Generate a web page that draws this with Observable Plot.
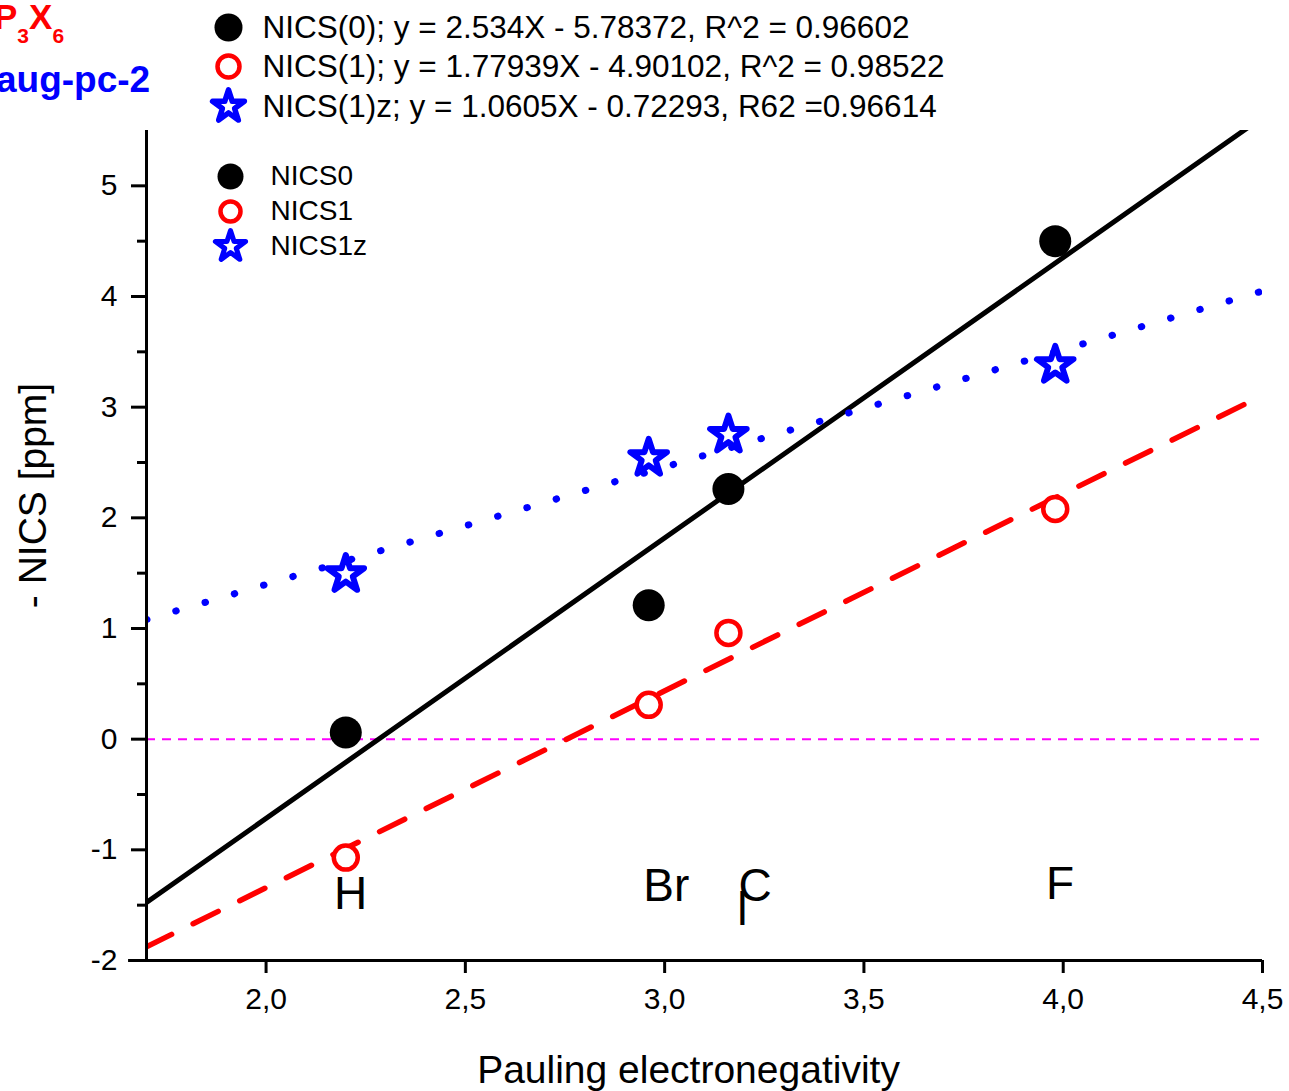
<!DOCTYPE html>
<html>
<head>
<meta charset="utf-8">
<script src="https://cdn.jsdelivr.net/npm/d3@7"></script>
<script src="https://cdn.jsdelivr.net/npm/@observablehq/plot@0.6"></script>
<style>
  html, body { margin: 0; padding: 0; background: #fff; }
  #wrap { position: relative; width: 1289px; height: 1091px; overflow: hidden; font-family: "Liberation Sans", Arial, sans-serif; }
  #wrap svg { position: absolute; left: 0; top: 0; }
  .t1 { position: absolute; left: -6px; top: -1px; color: #ff0000; font-weight: bold; font-size: 35px; line-height: 1; }
  .t1 sub { font-size: 21px; vertical-align: -14px; }
  .t2 { position: absolute; left: -4px; top: 61px; color: #0000ff; font-weight: bold; font-size: 37px; line-height: 1; }
</style>
</head>
<body>
<div id="wrap"></div>
<script>
// Electronegativity (Pauling) for X = H, Br, Cl, F
const electronegativity = [2.20, 2.96, 3.16, 3.98];
const nics0  = [0.06, 1.21, 2.26, 4.50];
const nics1  = [-1.07, 0.31, 0.96, 2.08];
const nics1z = [1.49, 2.54, 2.75, 3.38];

const seriesNames = ["NICS0", "NICS1", "NICS1z"];
const fitLabels = [
  "NICS(0); y = 2.534X - 5.78372, R^2 = 0.96602",
  "NICS(1); y = 1.77939X - 4.90102, R^2 = 0.98522",
  "NICS(1)z; y = 1.0605X - 0.72293, R62 =0.96614"
];
const slopes = [2.534, 1.77939, 1.0605];
const intercepts = [-5.78372, -4.90102, -0.72293];

const xTicks = [2.0, 2.5, 3.0, 3.5, 4.0, 4.5];
const yTicks = [-2, -1, 0, 1, 2, 3, 4, 5];
const yMinorTicks = [-1.5, -0.5, 0.5, 1.5, 2.5, 3.5, 4.5];

const elemLabels = ["H", "Br", "C", "l", "F"];
const elemX = [2.212, 3.004, 3.227, 3.195, 3.992];
const elemY = [-1.40, -1.33, -1.33, -1.55, -1.31];

const xDomain = [1.7, 4.5];
const yDomain = [-2, 5.5];

const points = [];
electronegativity.forEach((x, i) => {
  points.push({x, y: nics0[i], s: "NICS0"});
  points.push({x, y: nics1[i], s: "NICS1"});
  points.push({x, y: nics1z[i], s: "NICS1z"});
});
const fits = seriesNames.map((s, k) =>
  xDomain.map(x => ({x, y: slopes[k] * x + intercepts[k], s})));
const labels = elemLabels.map((t, i) => ({t, x: elemX[i], y: elemY[i]}));

const font = "Liberation Sans, Arial, sans-serif";
const comma = d => d3.format(".1f")(d).replace(".", ",");

const chart = Plot.plot({
  width: 1289,
  height: 1091,
  marginLeft: 146,
  marginRight: 27,
  marginTop: 130,
  marginBottom: 131,
  style: {fontFamily: font, background: "white", overflow: "visible"},
  x: {domain: xDomain, axis: null},
  y: {domain: yDomain, axis: null},
  marks: [
    // zero reference
    Plot.ruleY([0], {x1: xDomain[0], x2: xDomain[1], stroke: "#ff00ff", strokeWidth: 2, strokeDasharray: "9 7"}),
    // fit lines
    Plot.line(fits[0], {x: "x", y: "y", stroke: "black", strokeWidth: 5, clip: true}),
    Plot.line(fits[1], {x: "x", y: "y", stroke: "#ff0000", strokeWidth: 5.5, strokeDasharray: "28 24", strokeLinecap: "round", clip: true}),
    Plot.line(fits[2], {x: "x", y: "y", stroke: "#0000ff", strokeWidth: 7, strokeDasharray: "0.5 30", strokeLinecap: "round", clip: true}),
    // points
    Plot.dot(points.filter(d => d.s === "NICS0"), {x: "x", y: "y", r: 16, fill: "black", stroke: "none"}),
    Plot.dot(points.filter(d => d.s === "NICS1"), {x: "x", y: "y", r: 12, fill: "white", stroke: "#ff0000", strokeWidth: 4.5}),
    Plot.dot(points.filter(d => d.s === "NICS1z"), {x: "x", y: "y", r: 11.5, symbol: "star", fill: "white", stroke: "#0000ff", strokeWidth: 6, strokeLinejoin: "round"}),
    // element labels
    Plot.text(labels, {x: "x", y: "y", text: "t", fontSize: 46, fill: "black", fontFamily: font}),
    // axes lines
    Plot.ruleX([xDomain[0]], {y1: yDomain[0], y2: yDomain[1], stroke: "black", strokeWidth: 3}),
    Plot.ruleY([yDomain[0]], {x1: 1.655, x2: xDomain[1], stroke: "black", strokeWidth: 3}),
    // ticks
    Plot.axisX({ticks: xTicks, tickFormat: comma, tickSize: 13, tickPadding: 14, fontSize: 30, strokeWidth: 3, color: "black", anchor: "bottom", label: null}),
    Plot.axisY({ticks: yTicks, tickFormat: d => d3.format("d")(d).replace("−", "-"), tickSize: 15, tickPadding: 14, fontSize: 30, strokeWidth: 3, color: "black", anchor: "left", label: null}),
    Plot.axisY({ticks: yMinorTicks, tickFormat: () => "", tickSize: 9, strokeWidth: 3, color: "black", anchor: "left", label: null}),
    // axis titles
    Plot.text(["Pauling electronegativity"], {frameAnchor: "bottom", dx: -16, dy: 110, lineAnchor: "middle", textAnchor: "middle", text: d => d, fontSize: 39, fill: "black"}),
    Plot.text(["- NICS [ppm]"], {frameAnchor: "left", dx: -113, dy: -50, rotate: -90, lineAnchor: "middle", textAnchor: "middle", text: d => d, fontSize: 39, fill: "black"}),
    // top legend (fit equations)
    Plot.dot([0], {frameAnchor: "top-left", dx: 82, dy: -103, r: 14, fill: "black"}),
    Plot.dot([0], {frameAnchor: "top-left", dx: 82, dy: -64, r: 11, fill: "white", stroke: "#ff0000", strokeWidth: 4.5}),
    Plot.dot([0], {frameAnchor: "top-left", dx: 82, dy: -24, r: 10, symbol: "star", fill: "white", stroke: "#0000ff", strokeWidth: 5.5, strokeLinejoin: "round"}),
    ...fitLabels.map((t, k) => Plot.text([t], {frameAnchor: "top-left", dx: 116, dy: -103 + [0, 39, 79][k], lineAnchor: "middle", text: d => d, textAnchor: "start", fontSize: 31.5, fill: "black"})),
    // inner legend
    Plot.dot([0], {frameAnchor: "top-left", dx: 84, dy: 46, r: 13, fill: "black"}),
    Plot.dot([0], {frameAnchor: "top-left", dx: 84, dy: 81, r: 10, fill: "white", stroke: "#ff0000", strokeWidth: 4.5}),
    Plot.dot([0], {frameAnchor: "top-left", dx: 84, dy: 116, r: 9.5, symbol: "star", fill: "white", stroke: "#0000ff", strokeWidth: 5, strokeLinejoin: "round"}),
    ...seriesNames.map((t, k) => Plot.text([t], {frameAnchor: "top-left", dx: 124, dy: 46 + 35 * k, lineAnchor: "middle", text: d => d, textAnchor: "start", fontSize: 28, fill: "black"}))
  ]
});

const wrap = document.getElementById("wrap");
wrap.appendChild(chart);
const t1 = document.createElement("div");
t1.className = "t1";
t1.innerHTML = "P<sub>3</sub>X<sub>6</sub>";
wrap.appendChild(t1);
const t2 = document.createElement("div");
t2.className = "t2";
t2.textContent = "aug-pc-2";
wrap.appendChild(t2);
</script>
</body>
</html>
